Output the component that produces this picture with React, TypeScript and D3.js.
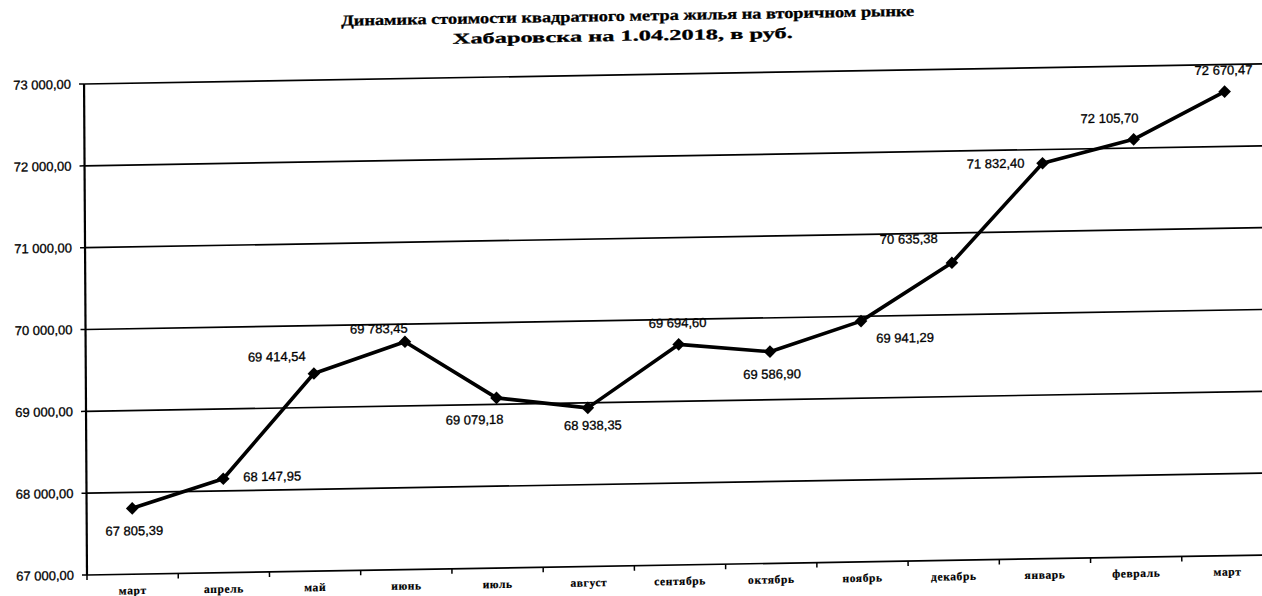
import React from "react";
import * as d3 from "d3";

const titleLines = [
  "Динамика стоимости квадратного метра жилья на вторичном рынке",
  "Хабаровска на 1.04.2018, в руб.",
];

const months = [
  "март", "апрель", "май", "июнь", "июль", "август", "сентябрь",
  "октябрь", "ноябрь", "декабрь", "январь", "февраль", "март",
];

const prices = [
  67805.39, 68147.95, 69414.54, 69783.45, 69079.18, 68938.35, 69694.6,
  69586.9, 69941.29, 70635.38, 71832.4, 72105.7, 72670.47,
];

const yTicks = [67000, 68000, 69000, 70000, 71000, 72000, 73000];

// label placement for each data label (Excel-like positions)
const labelPlacement = [
  "below", "right", "upleftFar", "upleft", "downleft", "downright", "above",
  "below", "downrightFar", "upleftFar2", "left", "upleft2", "above",
];

const W = 1262;
const H = 596;
const M = { left: 87, right: 1273, top: 84, bottom: 575 };

const ru = d3.formatLocale({
  decimal: ",",
  thousands: " ",
  grouping: [3],
  currency: ["", ""],
});
const fmt = ru.format(",.2f");

const offsets: Record<string, [number, number, string]> = {
  below: [2, 27, "middle"],
  right: [20, 3, "start"],
  upleftFar: [-37, -13, "middle"],
  upleft: [-26, -9, "middle"],
  downleft: [-22, 26, "middle"],
  downright: [5, 22, "middle"],
  above: [-1, -17, "middle"],
  downrightFar: [44, 22, "middle"],
  upleftFar2: [-43, -20, "middle"],
  left: [-18, 4, "end"],
  upleft2: [-24, -17, "middle"],
};

// scan skew of the reference
const A = 0.006;
const B = -0.017;

export default function App() {
  const x = d3
    .scaleBand<number>()
    .domain(months.map((_, i) => i))
    .range([M.left, M.right])
    .padding(0);
  const cx = (i: number) => (x(i) as number) + x.bandwidth() / 2;
  const y = d3.scaleLinear().domain([67000, 73000]).range([M.bottom, M.top]);

  const line = d3
    .line<number>()
    .x((_, i) => cx(i))
    .y((d) => y(d));

  const marker = d3.symbol(d3.symbolSquare, 80)();

  const skew = `matrix(1 ${B} ${A} 1 ${-A * M.bottom} ${-B * M.left})`;
  const boundaries = d3.range(months.length + 1).map((i) => M.left + i * x.bandwidth());

  return (
    <svg
      width={W}
      height={H}
      style={{ position: "absolute", left: 0, top: 0, background: "#fff", display: "block" }}
    >
      <rect x={0} y={0} width={W} height={H} fill="#fff" />
      <g transform={skew}>
        {/* title */}
        <g fontFamily="'Liberation Serif', serif" fontWeight="bold" fontSize={15} fill="#000">
          <text x={631} y={30} textAnchor="middle" textLength={573} lengthAdjust="spacingAndGlyphs" stroke="#000" strokeWidth={0.3}>
            {titleLines[0]}
          </text>
          <text x={626} y={50} textAnchor="middle" textLength={340} lengthAdjust="spacingAndGlyphs" stroke="#000" strokeWidth={0.3}>
            {titleLines[1]}
          </text>
        </g>

        {/* gridlines */}
        {yTicks.map((t) => (
          <line key={t} x1={M.left} x2={M.right} y1={y(t)} y2={y(t)} stroke="#000" strokeWidth={1.7} />
        ))}

        {/* y axis */}
        <line x1={M.left} x2={M.left} y1={M.top} y2={M.bottom} stroke="#000" strokeWidth={2.2} />
        {yTicks.map((t) => (
          <line key={"yt" + t} x1={M.left - 5} x2={M.left} y1={y(t)} y2={y(t)} stroke="#000" strokeWidth={1.5} />
        ))}
        <g fontFamily="'Liberation Sans', Arial, sans-serif" fontSize={13} fill="#000">
          {yTicks.map((t) => (
            <text key={"yl" + t} x={M.left - 13} y={y(t) + 4.5} textAnchor="end" stroke="#000" strokeWidth={0.3}>
              {fmt(t)}
            </text>
          ))}
        </g>

        {/* x axis ticks */}
        {boundaries.map((bx, i) => (
          <line key={"xt" + i} x1={bx} x2={bx} y1={M.bottom} y2={M.bottom + 5} stroke="#000" strokeWidth={1.5} />
        ))}
        <g fontFamily="'Liberation Serif', serif" fontWeight="bold" fontSize={11.5} fill="#000">
          {months.map((m, i) => (
            <text key={"xl" + i} x={cx(i)} y={M.bottom + 20} textAnchor="middle" letterSpacing={0.6} stroke="#000" strokeWidth={0.2}>
              {m}
            </text>
          ))}
        </g>

        {/* series line */}
        <path d={line(prices) || ""} fill="none" stroke="#000" strokeWidth={3.6} strokeLinejoin="round" />
        {prices.map((p, i) => (
          <path
            key={"m" + i}
            d={marker || ""}
            transform={`translate(${cx(i)},${y(p)}) rotate(45)`}
            fill="#000"
          />
        ))}

        {/* data labels */}
        <g fontFamily="'Liberation Sans', Arial, sans-serif" fontSize={13} fill="#000">
          {prices.map((p, i) => {
            const [dx, dy, anchor] = offsets[labelPlacement[i]];
            return (
              <text
                key={"dl" + i}
                x={cx(i) + dx}
                y={y(p) + dy}
                textAnchor={anchor as any}
                stroke="#000"
                strokeWidth={0.3}
              >
                {fmt(p)}
              </text>
            );
          })}
        </g>
      </g>
    </svg>
  );
}
